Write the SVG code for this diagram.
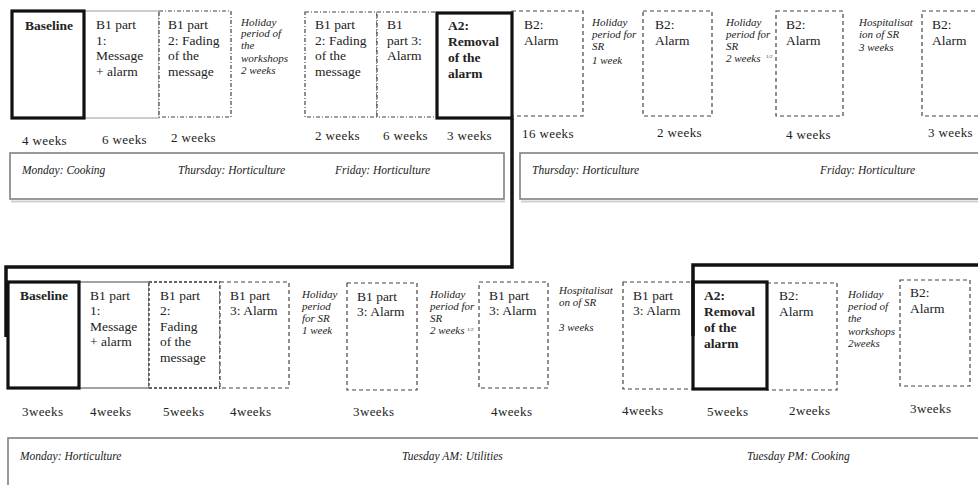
<svg xmlns="http://www.w3.org/2000/svg" width="978" height="485" viewBox="0 0 978 485">
<style>
text{font-family:"Liberation Serif","Times New Roman",serif;fill:#222}
.lb{font-size:13.5px}
.bd{font-size:13.5px;font-weight:bold}
.it{font-size:11px;font-style:italic}
.wk{font-size:13px;letter-spacing:0.4px}
.dy{font-size:11.5px;font-style:italic}
.sup{font-size:5px;font-style:italic}
.thick{fill:#fff;stroke:#111;stroke-width:3.2}
.thin{fill:#fff;stroke:#999;stroke-width:1}
.thinD{fill:#fff;stroke:#444;stroke-width:1}
.dd{fill:#fff;stroke:#444;stroke-width:1.2;stroke-dasharray:4 2 1 2}
.ds{fill:#fff;stroke:#444;stroke-width:1.2;stroke-dasharray:4 3}
.dt{fill:#fff;stroke:#333;stroke-width:1.3;stroke-dasharray:3 2}
.day{fill:#fff;stroke:#808080;stroke-width:1.6}
.shadow{fill:none;stroke:#d0d0d0;stroke-width:2}
.conn{fill:none;stroke:#111;stroke-width:3.5}
</style>
<rect width="978" height="485" fill="#fff"/>

<!-- Top row -->
<g id="t_b1p1"><rect class="thin" x="84" y="11" width="75" height="107"/>
<text class="lb" x="96" y="29">B1 part</text><text class="lb" x="96" y="45">1:</text><text class="lb" x="96" y="60">Message</text><text class="lb" x="96" y="76">+ alarm</text></g>
<g id="t_base"><rect class="thick" x="12" y="11" width="72" height="107"/>
<text class="bd" x="25" y="30">Baseline</text></g>
<g id="t_b1p2a"><rect class="dd" x="159" y="11" width="72" height="106"/>
<text class="lb" x="168" y="29">B1 part</text><text class="lb" x="168" y="45">2: Fading</text><text class="lb" x="168" y="60">of the</text><text class="lb" x="168" y="76">message</text></g>
<g id="t_hol1"><text class="it" x="241" y="26">Holiday</text><text class="it" x="241" y="37">period of</text><text class="it" x="241" y="49">the</text><text class="it" x="241" y="62">workshops</text><text class="it" x="241" y="74">2 weeks</text></g>
<g id="t_b1p2b"><rect class="dd" x="305" y="12" width="72" height="105"/>
<text class="lb" x="315" y="29">B1 part</text><text class="lb" x="315" y="45">2: Fading</text><text class="lb" x="315" y="60">of the</text><text class="lb" x="315" y="76">message</text></g>
<g id="t_b1p3"><rect class="dd" x="377" y="12" width="60" height="105"/>
<text class="lb" x="387" y="29">B1</text><text class="lb" x="387" y="45">part 3:</text><text class="lb" x="387" y="60">Alarm</text></g>
<g id="t_b2a"><rect class="ds" x="512" y="11" width="71" height="105"/>
<text class="lb" x="524" y="29">B2:</text><text class="lb" x="524" y="45">Alarm</text></g>
<g id="t_a2"><rect class="thick" x="437" y="13" width="75" height="105"/>
<text class="bd" x="448" y="30">A2:</text><text class="bd" x="448" y="46">Removal</text><text class="bd" x="448" y="62">of the</text><text class="bd" x="448" y="78">alarm</text></g>
<g id="t_hol2"><text class="it" x="592" y="26">Holiday</text><text class="it" x="592" y="38">period for</text><text class="it" x="592" y="50">SR</text><text class="it" x="592" y="64">1 week</text></g>
<g id="t_b2b"><rect class="ds" x="643" y="11" width="69" height="105"/>
<text class="lb" x="655" y="29">B2:</text><text class="lb" x="655" y="45">Alarm</text></g>
<g id="t_hol3"><text class="it" x="726" y="26">Holiday</text><text class="it" x="726" y="38">period for</text><text class="it" x="726" y="50">SR</text><text class="it" x="726" y="62">2 weeks</text><text class="sup" x="766" y="58">1/2</text></g>
<g id="t_b2c"><rect class="ds" x="776" y="11" width="67" height="105"/>
<text class="lb" x="786" y="29">B2:</text><text class="lb" x="786" y="45">Alarm</text></g>
<g id="t_hosp"><text class="it" x="859" y="26">Hospitalisat</text><text class="it" x="859" y="38">ion of SR</text><text class="it" x="859" y="51">3 weeks</text></g>
<g id="t_b2d"><rect class="ds" x="922" y="11" width="70" height="105"/>
<text class="lb" x="932" y="29">B2:</text><text class="lb" x="932" y="45">Alarm</text></g>

<g id="t_weeks">
<text class="wk" x="22" y="145">4 weeks</text><text class="wk" x="102" y="144">6 weeks</text><text class="wk" x="171" y="142">2 weeks</text>
<text class="wk" x="315" y="140">2 weeks</text><text class="wk" x="383" y="140">6 weeks</text><text class="wk" x="447" y="140">3 weeks</text>
<text class="wk" x="522" y="138">16 weeks</text><text class="wk" x="657" y="137">2 weeks</text><text class="wk" x="786" y="139">4 weeks</text><text class="wk" x="928" y="137">3 weeks</text>
</g>

<g id="t_days1"><line class="shadow" x1="11" y1="201.5" x2="505" y2="201.5"/><rect class="day" x="10" y="153" width="494" height="46"/>
<text class="dy" x="22" y="174">Monday: Cooking</text><text class="dy" x="178" y="174">Thursday: Horticulture</text><text class="dy" x="335" y="174">Friday: Horticulture</text></g>
<g id="t_days2"><line class="shadow" x1="521" y1="201.5" x2="978" y2="201.5"/><rect class="day" x="520" y="153" width="470" height="46"/>
<text class="dy" x="532" y="174">Thursday: Horticulture</text><text class="dy" x="820" y="174">Friday: Horticulture</text></g>

<!-- Bottom row -->
<g id="b_b1p1"><rect class="thinD" x="79" y="282" width="70" height="106"/>
<text class="lb" x="90" y="300">B1 part</text><text class="lb" x="90" y="315">1:</text><text class="lb" x="90" y="331">Message</text><text class="lb" x="90" y="346">+ alarm</text></g>
<g id="b_base"><rect class="thick" x="8" y="282" width="71" height="106"/>
<text class="bd" x="20" y="300">Baseline</text></g>
<g id="b_b1p2"><rect class="dt" x="149" y="282" width="71" height="106"/>
<text class="lb" x="160" y="300">B1 part</text><text class="lb" x="160" y="315">2:</text><text class="lb" x="160" y="331">Fading</text><text class="lb" x="160" y="346">of the</text><text class="lb" x="160" y="362">message</text></g>
<g id="b_b1p3a"><rect class="ds" x="220" y="282" width="69" height="106"/>
<text class="lb" x="230" y="300">B1 part</text><text class="lb" x="230" y="315">3: Alarm</text></g>
<g id="b_hol1"><text class="it" x="302" y="298">Holiday</text><text class="it" x="302" y="310">period</text><text class="it" x="302" y="322">for SR</text><text class="it" x="302" y="334">1 week</text></g>
<g id="b_b1p3b"><rect class="ds" x="347" y="283" width="70" height="107"/>
<text class="lb" x="357" y="301">B1 part</text><text class="lb" x="357" y="316">3: Alarm</text></g>
<g id="b_hol2"><text class="it" x="430" y="298">Holiday</text><text class="it" x="430" y="310">period for</text><text class="it" x="430" y="322">SR</text><text class="it" x="430" y="334">2 weeks</text><text class="sup" x="467" y="331">1/2</text></g>
<g id="b_b1p3c"><rect class="ds" x="479" y="282" width="69" height="106"/>
<text class="lb" x="489" y="300">B1 part</text><text class="lb" x="489" y="315">3: Alarm</text></g>
<g id="b_hosp"><text class="it" x="559" y="294">Hospitalisat</text><text class="it" x="559" y="306">on of SR</text><text class="it" x="559" y="331">3 weeks</text></g>
<g id="b_b1p3d"><rect class="ds" x="623" y="282" width="70" height="107"/>
<text class="lb" x="633" y="300">B1 part</text><text class="lb" x="633" y="315">3: Alarm</text></g>
<g id="b_b2a"><rect class="ds" x="767" y="283" width="70" height="107"/>
<text class="lb" x="779" y="300">B2:</text><text class="lb" x="779" y="316">Alarm</text></g>
<g id="b_a2"><rect class="thick" x="693" y="282" width="74" height="107"/>
<text class="bd" x="704" y="300">A2:</text><text class="bd" x="704" y="316">Removal</text><text class="bd" x="704" y="332">of the</text><text class="bd" x="704" y="348">alarm</text></g>
<g id="b_hol3"><text class="it" x="848" y="298">Holiday</text><text class="it" x="848" y="310">period of</text><text class="it" x="848" y="322">the</text><text class="it" x="848" y="335">workshops</text><text class="it" x="848" y="347">2weeks</text></g>
<g id="b_b2b"><rect class="ds" x="900" y="280" width="70" height="106"/>
<text class="lb" x="910" y="297">B2:</text><text class="lb" x="910" y="313">Alarm</text></g>

<g id="b_weeks">
<text class="wk" x="22" y="416">3weeks</text><text class="wk" x="90" y="416">4weeks</text><text class="wk" x="163" y="416">5weeks</text><text class="wk" x="230" y="416">4weeks</text>
<text class="wk" x="353" y="416">3weeks</text><text class="wk" x="491" y="416">4weeks</text><text class="wk" x="622" y="415">4weeks</text><text class="wk" x="707" y="416">5weeks</text>
<text class="wk" x="789" y="415">2weeks</text><text class="wk" x="910" y="413">3weeks</text>
</g>

<g id="b_days"><rect class="day" x="8" y="438" width="990" height="60"/>
<text class="dy" x="20" y="460">Monday: Horticulture</text><text class="dy" x="402" y="460">Tuesday AM: Utilities</text><text class="dy" x="747" y="460">Tuesday PM: Cooking</text></g>

<g id="connectors">
<path class="conn" d="M512,118 V267 H6 V337"/>
<path class="conn" d="M693,336 V265 H980"/>
</g>
</svg>
